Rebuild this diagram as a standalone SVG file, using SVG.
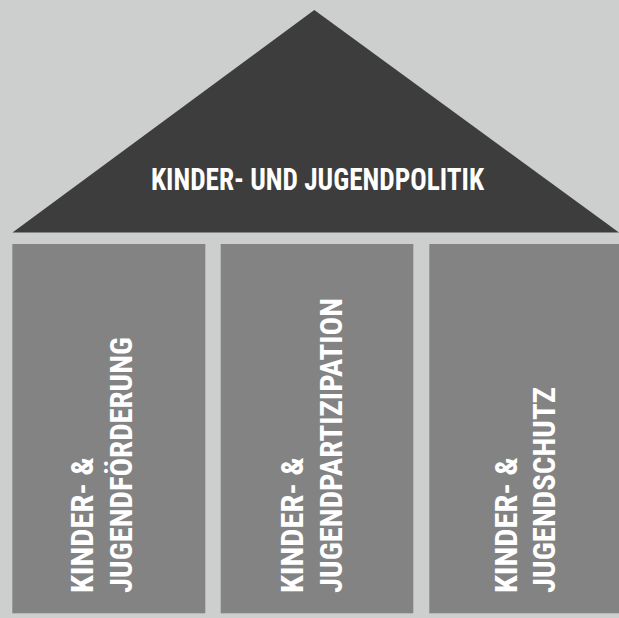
<svg xmlns="http://www.w3.org/2000/svg" width="619" height="618" viewBox="0 0 619 618">
<style>
.lbl{font-family:"Liberation Sans Narrow","Roboto Condensed","DejaVu Sans Condensed","Liberation Sans",sans-serif;font-stretch:condensed;font-weight:bold;font-size:31px;fill:#ffffff}
.pillar{fill:#838383}
</style>
<rect x="0" y="0" width="619" height="618" fill="#cdcfce"/>
<g id="roof">
<polygon points="12.5,232.5 314.3,10 619,232.5" fill="#3d3d3d"/>
<text class="lbl" x="151" y="190" textLength="333" lengthAdjust="spacingAndGlyphs">KINDER- UND JUGENDPOLITIK</text>
</g>
<g id="pillar1">
<rect class="pillar" x="12.3" y="244" width="193" height="369.3"/>
<text class="lbl" transform="translate(93,593) rotate(-90)" textLength="136" lengthAdjust="spacingAndGlyphs">KINDER- &amp;</text>
<text class="lbl" transform="translate(132,593) rotate(-90)" textLength="256" lengthAdjust="spacingAndGlyphs">JUGENDFÖRDERUNG</text>
</g>
<g id="pillar2">
<rect class="pillar" x="220.7" y="244" width="192.6" height="369.3"/>
<text class="lbl" transform="translate(303,593) rotate(-90)" textLength="136" lengthAdjust="spacingAndGlyphs">KINDER- &amp;</text>
<text class="lbl" transform="translate(342,593) rotate(-90)" textLength="295" lengthAdjust="spacingAndGlyphs">JUGENDPARTIZIPATION</text>
</g>
<g id="pillar3">
<rect class="pillar" x="429.3" y="244" width="189.7" height="369.3"/>
<text class="lbl" transform="translate(517,593) rotate(-90)" textLength="136" lengthAdjust="spacingAndGlyphs">KINDER- &amp;</text>
<text class="lbl" transform="translate(555,593) rotate(-90)" textLength="206" lengthAdjust="spacingAndGlyphs">JUGENDSCHUTZ</text>
</g>
<g id="connectors"/>
</svg>
